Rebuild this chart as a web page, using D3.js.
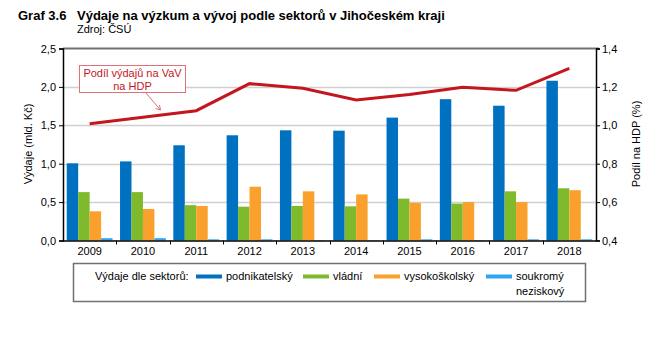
<!DOCTYPE html>
<html><head><meta charset="utf-8">
<script src="https://cdn.jsdelivr.net/npm/d3@7"></script>
<style>body{margin:0;background:#fff;}svg{display:block;font-family:"Liberation Sans",Arial,sans-serif;}</style>
</head><body><svg id="c" width="655" height="339"></svg>
<script>
const years = ["2009","2010","2011","2012","2013","2014","2015","2016","2017","2018"];
const seriesNames = ["podnikatelský","vládní","vysokoškolský","soukromý neziskový"];
const podnikatelsky = [1.005,1.03,1.24,1.37,1.435,1.43,1.60,1.84,1.755,2.08];
const vladni = [0.63,0.63,0.46,0.44,0.45,0.445,0.545,0.48,0.64,0.68];
const vysokoskolsky = [0.38,0.41,0.45,0.70,0.64,0.60,0.49,0.50,0.50,0.655];
const soukromy = [0.03,0.03,0.015,0.015,0.005,0.005,0.015,0.005,0.015,0.015];
const podilHDP = [1.008,1.042,1.076,1.217,1.193,1.132,1.161,1.198,1.182,1.297];
const leftTicks = [0,0.5,1,1.5,2,2.5];
const rightTicks = [0.4,0.6,0.8,1.0,1.2,1.4];
const colors = ["#0070c0","#7fba2c","#f9a12c","#2ea6f2"];

const svg = d3.select("#c");
const L=63, R=596, T=48.5, B=240.5;
const x = d3.scaleBand().domain(years).range([L,R]).paddingInner(0.14).paddingOuter(0.07);
const xb = d3.scaleBand().domain(years).range([L,R]);
const sub = d3.scaleBand().domain(d3.range(4)).range([0,x.bandwidth()]);
const y = d3.scaleLinear().domain([0,2.5]).range([B,T]);
const y2 = d3.scaleLinear().domain([0.4,1.4]).range([B,T]);
const fmt = d => d.toFixed(1).replace(".",",");

// grid
svg.append("g").selectAll("line").data(leftTicks.slice(1,5)).join("line")
  .attr("x1",L).attr("x2",R).attr("y1",d=>Math.round(y(d))+0.5).attr("y2",d=>Math.round(y(d))+0.5)
  .attr("stroke","#d0d0d0").attr("stroke-width",1.5);
svg.append("line").attr("x1",L).attr("x2",R+3).attr("y1",T).attr("y2",T).attr("stroke","#707070").attr("stroke-width",2);

// bars
const all = [podnikatelsky,vladni,vysokoskolsky,soukromy];
all.forEach((arr,i)=>{
  svg.append("g").selectAll("rect").data(arr).join("rect")
    .attr("x",(d,j)=>x(years[j])+sub(i)).attr("width",sub.bandwidth())
    .attr("y",d=>y(d)).attr("height",d=>B-y(d)).attr("fill",colors[i]);
});

// axes
const gl = svg.append("g").attr("transform",`translate(${L},0)`)
  .call(d3.axisLeft(y).tickValues(leftTicks).tickFormat(fmt).tickSize(4).tickPadding(3));
const gr = svg.append("g").attr("transform",`translate(${R},0)`)
  .call(d3.axisRight(y2).tickValues(rightTicks).tickFormat(fmt).tickSize(4).tickPadding(2));
const gb = svg.append("g").attr("transform",`translate(0,${B})`)
  .call(d3.axisBottom(xb).tickSize(0).tickPadding(7));
svg.append("g").selectAll("line").data(years.slice(1)).join("line")
  .attr("x1",d=>Math.round(xb(d))+0.5).attr("x2",d=>Math.round(xb(d))+0.5).attr("y1",B).attr("y2",B+4).attr("stroke","#000");
[gl,gr,gb].forEach(g=>{
  g.selectAll("path").attr("stroke","#000").attr("stroke-width",1.5);
  g.selectAll("line").attr("stroke","#000");
  g.selectAll("text").attr("font-size",11).attr("fill","#000").attr("font-family","Liberation Sans, Arial, sans-serif");
});
gb.select("path").attr("d",`M${L},0.5H${R}`);

// line
svg.append("path").datum(podilHDP)
  .attr("d",d3.line().x((d,i)=>xb(years[i])+xb.bandwidth()/2).y(d=>y2(d)))
  .attr("fill","none").attr("stroke","#c3161f").attr("stroke-width",3);

// callout
svg.append("line").attr("x1",146).attr("y1",93).attr("x2",160.5).attr("y2",110).attr("stroke","#e0707a").attr("stroke-width",1);
svg.append("path").attr("d","M155.5,108.5 L160.5,110 L159.5,105").attr("fill","none").attr("stroke","#e0707a").attr("stroke-width",1);
svg.append("rect").attr("x",79.5).attr("y",65.5).attr("width",106).attr("height",27).attr("fill","#fff").attr("stroke","#e0707a").attr("stroke-width",1);
svg.append("text").attr("x",132.5).attr("y",77).attr("text-anchor","middle").attr("font-size",11).attr("fill","#c3161f").text("Podíl výdajů na VaV");
svg.append("text").attr("x",132.5).attr("y",89.5).attr("text-anchor","middle").attr("font-size",11).attr("fill","#c3161f").text("na HDP");

// axis titles
svg.append("text").attr("transform","translate(32,144) rotate(-90)").attr("text-anchor","middle").attr("font-size",11).text("Výdaje (mld. Kč)");
svg.append("text").attr("transform","translate(640,144) rotate(-90)").attr("text-anchor","middle").attr("font-size",11).text("Podíl na HDP (%)");

// title
svg.append("text").attr("x",18).attr("y",20).attr("font-size",13).attr("font-weight","bold").text("Graf 3.6");
svg.append("text").attr("x",77).attr("y",20).attr("font-size",13).attr("font-weight","bold").text("Výdaje na výzkum a vývoj podle sektorů v Jihočeském kraji");
svg.append("text").attr("x",77).attr("y",33).attr("font-size",11).text("Zdroj: ČSÚ");

// legend
svg.append("rect").attr("x",73.5).attr("y",263.5).attr("width",512).attr("height",38).attr("fill","#fff").attr("stroke","#707070").attr("stroke-width",1.5);
svg.append("text").attr("x",95).attr("y",280).attr("font-size",11).text("Výdaje dle sektorů:");
const lx = [196,303,374,486];
seriesNames.forEach((n,i)=>{
  svg.append("rect").attr("x",lx[i]).attr("y",274.5).attr("width",26).attr("height",4).attr("fill",colors[i]);
  const t = svg.append("text").attr("x",lx[i]+30).attr("y",280).attr("font-size",11);
  if(i===3){ t.text("soukromý"); svg.append("text").attr("x",lx[i]+30).attr("y",295).attr("font-size",11).text("neziskový"); }
  else t.text(n);
});
</script></body></html>
